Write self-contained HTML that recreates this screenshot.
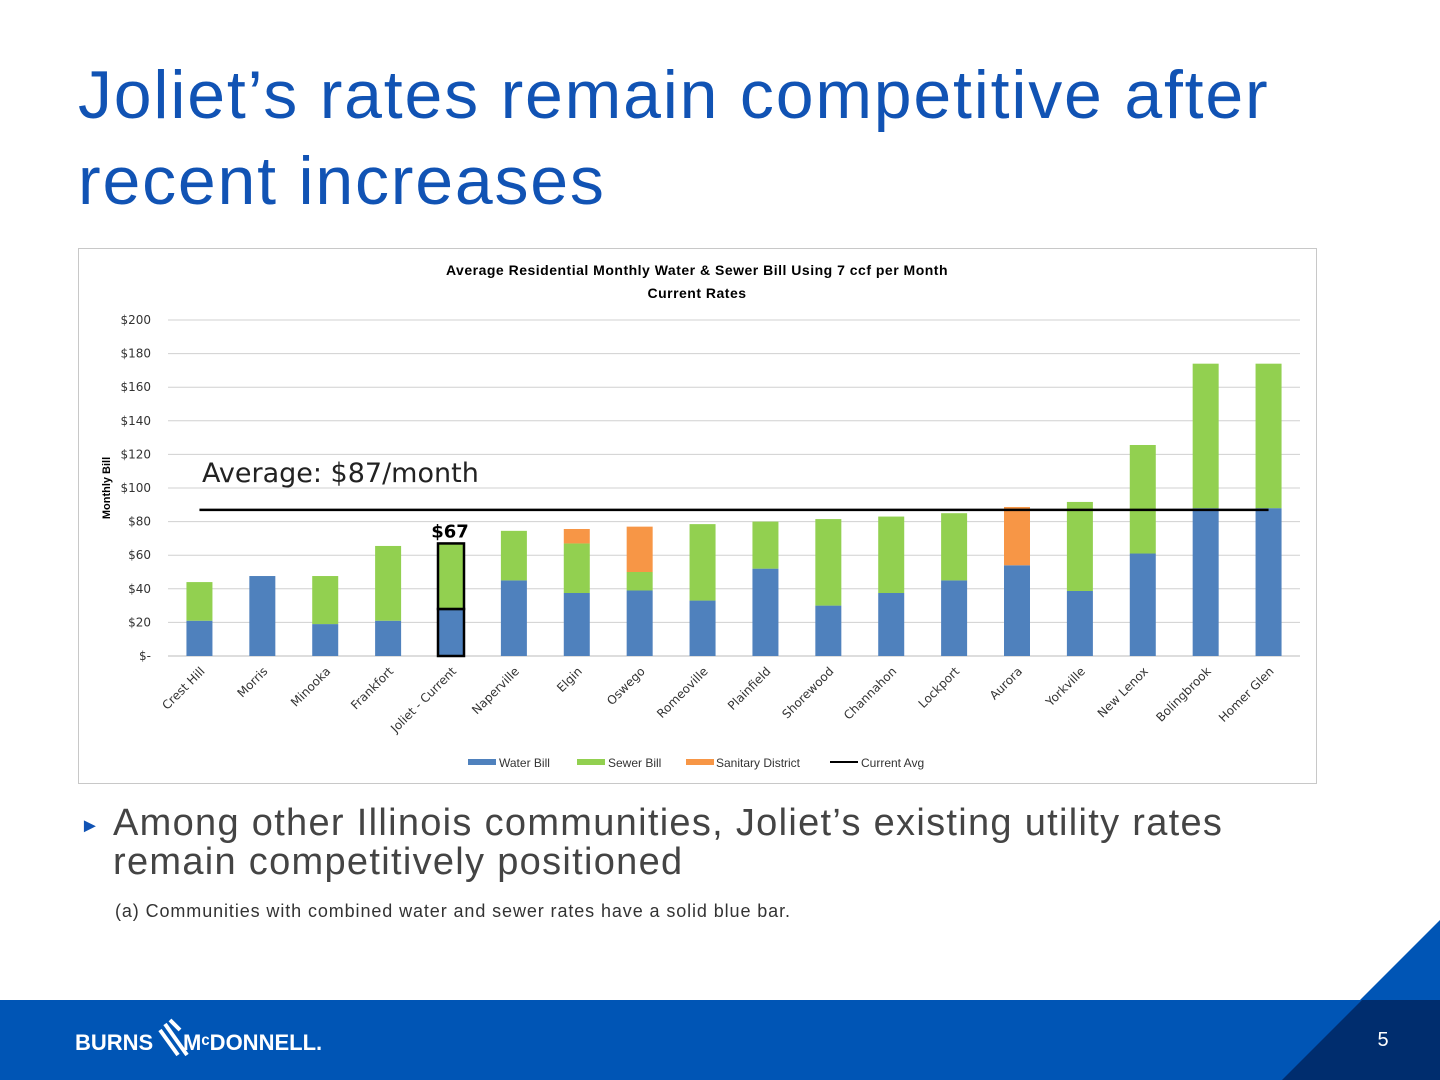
<!DOCTYPE html>
<html><head><meta charset="utf-8"><style>
body{margin:0;width:1440px;height:1080px;position:relative;background:#fff;font-family:"Liberation Sans",sans-serif;overflow:hidden}
.t{position:absolute;left:78px;top:52px;font-size:68px;line-height:86px;color:#1153b4;letter-spacing:1.8px}
</style></head><body>
<div class="t">Joliet’s rates remain competitive after<br>recent increases</div>
<svg width="1440" height="1080" style="position:absolute;left:0;top:0" id="svg">
<rect x="78.5" y="248.5" width="1238" height="535" fill="#fff" stroke="#c8c8c8"/>
<text x="697" y="275" text-anchor="middle" font-size="14" font-weight="bold" letter-spacing="0.5" font-family="Liberation Sans">Average Residential Monthly Water &amp; Sewer Bill Using 7 ccf per Month</text>
<text x="697" y="298" text-anchor="middle" font-size="14" font-weight="bold" letter-spacing="0.5" font-family="Liberation Sans">Current Rates</text>
<text transform="translate(110,488) rotate(-90)" text-anchor="middle" font-size="11" font-weight="bold" font-family="Liberation Sans">Monthly Bill</text>
<g id="grid"></g><g id="bars"></g>
<text x="202" y="482" font-size="27" fill="#222" font-family="DejaVu Sans">Average: $87/month</text>
<g font-size="12" font-family="Liberation Sans" fill="#333">
<rect x="468" y="759" width="28" height="6" fill="#4f81bd"/><text x="499" y="767">Water Bill</text>
<rect x="577" y="759" width="28" height="6" fill="#92d050"/><text x="608" y="767">Sewer Bill</text>
<rect x="686" y="759" width="28" height="6" fill="#f79646"/><text x="716" y="767">Sanitary District</text>
<line x1="830" y1="762" x2="858" y2="762" stroke="#000" stroke-width="2"/><text x="861" y="767">Current Avg</text>
</g>
<rect x="0" y="1000" width="1440" height="80" fill="#0055b5"/>
<polygon points="1360,1000 1440,920 1440,1000" fill="#0055b5"/>
<polygon points="1362,1000 1440,1000 1440,1080 1282,1080" fill="#002d6e"/>
<text x="1383" y="1046" font-size="20" fill="#fff" text-anchor="middle" font-family="Liberation Sans">5</text>
<text x="75" y="1050" font-size="22" font-weight="bold" fill="#fff" font-family="Liberation Sans">BURNS</text>
<g stroke="#fff" stroke-width="4"><line x1="160" y1="1030" x2="178" y2="1055"/><line x1="165" y1="1024" x2="187" y2="1055"/><line x1="170" y1="1020" x2="180" y2="1030"/></g>
<text x="183" y="1050" font-size="22" font-weight="bold" fill="#fff" font-family="Liberation Sans">MᶜDONNELL.</text>
</svg>
<div style="position:absolute;left:80px;top:815px;font-size:20px;color:#1153b4">►</div>
<div style="position:absolute;left:113px;top:804px;font-size:38px;line-height:39px;color:#444;letter-spacing:1.3px">Among other Illinois communities, Joliet’s existing utility rates<br>remain competitively positioned</div>
<div style="position:absolute;left:115px;top:901px;font-size:18px;color:#333;letter-spacing:0.9px">(a) Communities with combined water and sewer rates have a solid blue bar.</div>
<script>
const categories=["Crest Hill","Morris","Minooka","Frankfort","Joliet - Current","Naperville","Elgin","Oswego","Romeoville","Plainfield","Shorewood","Channahon","Lockport","Aurora","Yorkville","New Lenox","Bolingbrook","Homer Glen"];
const waterBill=[21,47.6,19,21,28,45,37.5,39,33,52,30,37.5,45,54,38.7,61,88,88];
const sewerBill=[23,0,28.6,44.5,39,29.5,29.5,11,45.5,28,51.5,45.5,40,0,53,64.6,86,86];
const sanitaryDistrict=[0,0,0,0,0,0,8.6,27,0,0,0,0,0,34.7,0,0,0,0];
const currentAvg=87;
const yTicks=[0,20,40,60,80,100,120,140,160,180,200];
const yTickLabels=["$-","$20","$40","$60","$80","$100","$120","$140","$160","$180","$200"];
const NS="http://www.w3.org/2000/svg";
const x0=168,x1=1300,y0=656,yTop=320;
const y=v=>y0-(v/200)*(y0-yTop);
const band=(x1-x0)/categories.length;
const xc=i=>x0+band*(i+0.5);
function mk(t,a,p){const e=document.createElementNS(NS,t);for(const k in a)e.setAttribute(k,a[k]);p.appendChild(e);return e;}
const grid=document.getElementById('grid'),bars=document.getElementById('bars');
yTicks.forEach((v,i)=>{
 const l=mk('line',{x1:x0,x2:x1,y1:y(v),y2:y(v),stroke:v===0?'#bbb':'#d0d0d0'},grid);
 
 
 const t=mk('text',{x:151,y:y(v)+4,'text-anchor':'end','font-size':12,'font-family':'DejaVu Sans',fill:'#333'},grid);
 t.textContent=yTickLabels[i];
 
 
});
const bw=26;
categories.forEach((c,i)=>{
 const cx=xc(i);let base=0;
 [[waterBill,'#4f81bd','water'],[sewerBill,'#92d050','sewer'],[sanitaryDistrict,'#f79646','sanitary']].forEach(([arr,col,n])=>{
  const v=arr[i];if(v<=0)return;
  const r=mk('rect',{x:cx-bw/2,y:y(base+v),width:bw,height:y(base)-y(base+v),fill:col},bars);
  if(c==="Joliet - Current"){r.setAttribute('stroke','#000');r.setAttribute('stroke-width','2.5');}
  
  
  base+=v;
 });
 if(c==="Joliet - Current"){
  const t=mk('text',{x:cx-1,y:y(base)-6,'text-anchor':'middle','font-size':18,'font-weight':'bold','font-family':'DejaVu Sans'},bars);
  t.textContent='$'+Math.round(base);
  
  
 }
 const t=mk('text',{transform:`translate(${cx+6},${672}) rotate(-45)`,'text-anchor':'end','font-size':12,'font-family':'DejaVu Sans',fill:'#333'},bars);
 t.textContent=c;
 
 
});
const al=mk('line',{x1:xc(0),x2:xc(categories.length-1),y1:y(currentAvg),y2:y(currentAvg),stroke:'#000','stroke-width':2.5},bars);


</script>
</body></html>
